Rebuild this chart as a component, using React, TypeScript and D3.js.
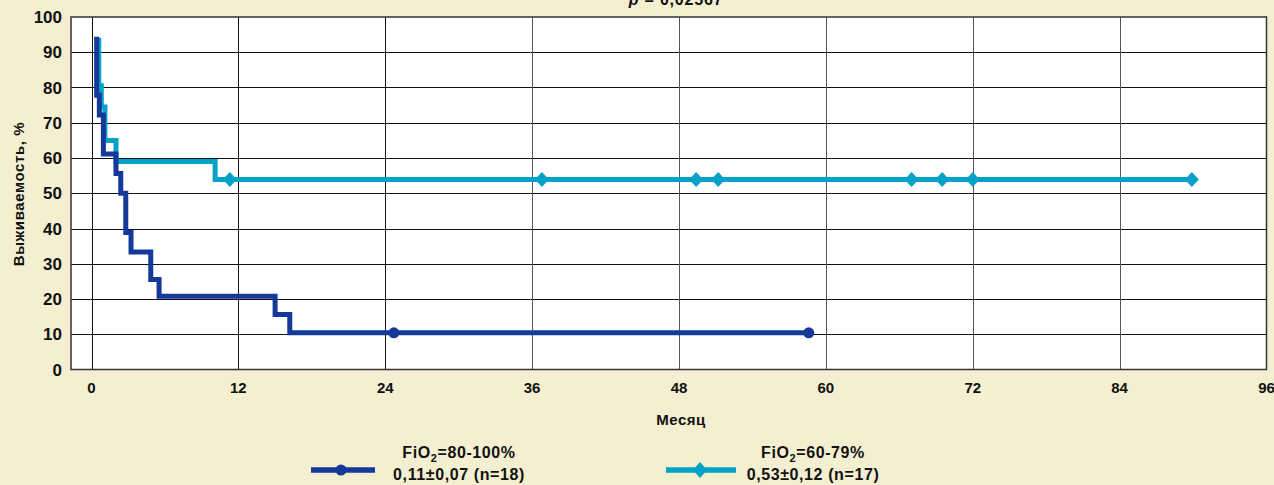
import React, { useEffect, useRef } from 'react';
import * as d3 from 'd3';

// FiO2 = 80-100% (dark), survival steps: month, percent
const highMonths = [0.42, 0.42, 0.64, 0.97, 2.0, 2.39, 2.8, 3.23, 4.84, 5.52, 15.0, 16.2, 58.6];
const highSurv = [94.4, 77.8, 72.2, 61.1, 55.6, 50.0, 38.9, 33.3, 25.5, 20.8, 15.6, 10.4, 10.4];
const highCensored = [24.7, 58.6];

// FiO2 = 60-79% (light)
const lowMonths = [0.59, 0.59, 0.8, 1.1, 2.0, 10.1, 89.9];
const lowSurv = [94.1, 80.5, 74.5, 65.0, 59.0, 53.9, 53.9];
const lowCensored = [11.3, 36.8, 49.4, 51.2, 67.0, 69.5, 72.0, 89.9];

const xTicks = [0, 12, 24, 36, 48, 60, 72, 84, 96];
const yTicks = [0, 10, 20, 30, 40, 50, 60, 70, 80, 90, 100];

const DARK = '#14399a';
const LIGHT = '#00a2c7';
const FONT = '"Liberation Sans Narrow", "Arial Narrow", sans-serif';

const App = () => {
  const svgRef = useRef(null);

  useEffect(() => {
    const svg = d3.select(svgRef.current);
    svg.selectAll('*').remove();
    const width = 1274;
    const height = 485;
    const plot = { left: 71, right: 1266.5, top: 17, bottom: 369.5 };

    svg.append('rect')
      .attr('width', width)
      .attr('height', height)
      .attr('fill', '#f3efd0');

    const x = d3.scaleLinear().domain([0, 96]).range([91.5, 1266.5]);
    const y = d3.scaleLinear().domain([0, 100]).range([plot.bottom, plot.top]);

    // plot background
    svg.append('rect')
      .attr('x', plot.left)
      .attr('y', plot.top)
      .attr('width', plot.right - plot.left)
      .attr('height', plot.bottom - plot.top)
      .attr('fill', '#fff');

    // grid
    svg.append('g')
      .selectAll('line')
      .data(yTicks.filter(d => d > 0 && d < 100))
      .enter().append('line')
      .attr('x1', plot.left)
      .attr('x2', plot.right)
      .attr('y1', d => Math.round(y(d)) + 0.5)
      .attr('y2', d => Math.round(y(d)) + 0.5)
      .attr('stroke', '#111')
      .attr('stroke-width', 1);

    svg.append('g')
      .selectAll('line')
      .data(xTicks.filter(d => d < 96))
      .enter().append('line')
      .attr('x1', d => Math.round(x(d)) + 0.5)
      .attr('x2', d => Math.round(x(d)) + 0.5)
      .attr('y1', plot.top)
      .attr('y2', plot.bottom)
      .attr('stroke', (d, i) => (i < 3 ? '#111' : '#555'))
      .attr('stroke-width', 1);

    // frame
    svg.append('rect')
      .attr('x', plot.left)
      .attr('y', plot.top)
      .attr('width', plot.right - plot.left)
      .attr('height', plot.bottom - plot.top)
      .attr('fill', 'none')
      .attr('stroke', '#333')
      .attr('stroke-width', 1.5);

    // tick labels
    svg.append('g')
      .selectAll('text')
      .data(yTicks)
      .enter().append('text')
      .attr('x', 62)
      .attr('y', d => y(d))
      .attr('dy', '0.36em')
      .attr('text-anchor', 'end')
      .attr('font-family', FONT)
      .attr('font-weight', 'bold')
      .attr('font-size', 17)
      .attr('fill', '#111')
      .text(d => d);

    svg.append('g')
      .selectAll('text')
      .data(xTicks)
      .enter().append('text')
      .attr('x', d => x(d))
      .attr('y', 388)
      .attr('dy', '0.36em')
      .attr('text-anchor', 'middle')
      .attr('font-family', FONT)
      .attr('font-weight', 'bold')
      .attr('font-size', 15)
      .attr('fill', '#111')
      .text(d => d);

    // axis titles
    svg.append('text')
      .attr('transform', 'translate(19,194) rotate(-90)')
      .attr('dy', '0.36em')
      .attr('text-anchor', 'middle')
      .attr('font-family', FONT)
      .attr('font-weight', 'bold')
      .attr('font-size', 15)
      .attr('letter-spacing', 0.6)
      .attr('fill', '#111')
      .text('Выживаемость, %');

    svg.append('text')
      .attr('x', 681)
      .attr('y', 420)
      .attr('dy', '0.36em')
      .attr('text-anchor', 'middle')
      .attr('font-family', FONT)
      .attr('font-weight', 'bold')
      .attr('font-size', 15)
      .attr('letter-spacing', 0.5)
      .attr('fill', '#111')
      .text('Месяц');

    svg.append('text')
      .attr('x', 676)
      .attr('y', 5)
      .attr('text-anchor', 'middle')
      .attr('font-family', FONT)
      .attr('font-weight', 'bold')
      .attr('font-size', 16)
      .attr('letter-spacing', 0.8)
      .attr('fill', '#111')
      .call(t => {
        t.append('tspan').attr('font-style', 'italic').text('p');
        t.append('tspan').text(' = 0,02567');
      });

    const line = d3.line()
      .x(d => x(d[0]))
      .y(d => y(d[1]))
      .curve(d3.curveStepAfter);

    const diamond = (cx, cy, w, h) =>
      `M${cx},${cy - h}L${cx + w},${cy}L${cx},${cy + h}L${cx - w},${cy}Z`;

    // light series
    const lowData = lowMonths.map((m, i) => [m, lowSurv[i]]);
    svg.append('path')
      .datum(lowData)
      .attr('fill', 'none')
      .attr('stroke', LIGHT)
      .attr('stroke-width', 5)
      .attr('d', line);
    const lowLevel = m => {
      let s = lowSurv[0];
      lowMonths.forEach((t, i) => { if (t <= m) s = lowSurv[i]; });
      return s;
    };
    svg.append('g')
      .selectAll('path')
      .data(lowCensored)
      .enter().append('path')
      .attr('d', d => diamond(x(d), y(lowLevel(d)), 7, 7.5))
      .attr('fill', LIGHT);

    // dark series
    const highData = highMonths.map((m, i) => [m, highSurv[i]]);
    svg.append('path')
      .datum(highData)
      .attr('fill', 'none')
      .attr('stroke', DARK)
      .attr('stroke-width', 5)
      .attr('d', line);
    const highLevel = m => {
      let s = highSurv[0];
      highMonths.forEach((t, i) => { if (t <= m) s = highSurv[i]; });
      return s;
    };
    svg.append('g')
      .selectAll('circle')
      .data(highCensored)
      .enter().append('circle')
      .attr('cx', d => x(d))
      .attr('cy', d => y(highLevel(d)))
      .attr('r', 5.5)
      .attr('fill', DARK);

    // legend
    const legend = [
      { color: DARK, x1: 311, x2: 375, mx: 341, tx: 459, name: '=80-100%', stat: '0,11±0,07 (n=18)', mark: 'circle' },
      { color: LIGHT, x1: 666, x2: 736, mx: 700, tx: 813, name: '=60-79%', stat: '0,53±0,12 (n=17)', mark: 'diamond' },
    ];
    legend.forEach(l => {
      const g = svg.append('g');
      g.append('line')
        .attr('x1', l.x1).attr('x2', l.x2)
        .attr('y1', 470).attr('y2', 470)
        .attr('stroke', l.color)
        .attr('stroke-width', 5.5);
      if (l.mark === 'circle') {
        g.append('circle').attr('cx', l.mx).attr('cy', 470).attr('r', 5.5).attr('fill', l.color);
      } else {
        g.append('path').attr('d', diamond(l.mx, 470, 7, 8)).attr('fill', l.color);
      }
      const t1 = g.append('text')
        .attr('x', l.tx).attr('y', 458)
        .attr('text-anchor', 'middle')
        .attr('font-family', FONT)
        .attr('font-weight', 'bold')
        .attr('font-size', 16)
        .attr('letter-spacing', 0.6)
        .attr('fill', '#111');
      t1.append('tspan').text('FiO');
      t1.append('tspan').attr('font-size', 11).attr('dy', 4).text('2');
      t1.append('tspan').attr('dy', -4).text(l.name);
      g.append('text')
        .attr('x', l.tx).attr('y', 480)
        .attr('text-anchor', 'middle')
        .attr('font-family', FONT)
        .attr('font-weight', 'bold')
        .attr('font-size', 16)
        .attr('letter-spacing', 0.6)
        .attr('fill', '#111')
        .text(l.stat);
    });
  }, []);

  return (
    <svg
      ref={svgRef}
      width={1274}
      height={485}
      style={{ position: 'absolute', left: 0, top: 0 }}
    ></svg>
  );
};

export default App;
